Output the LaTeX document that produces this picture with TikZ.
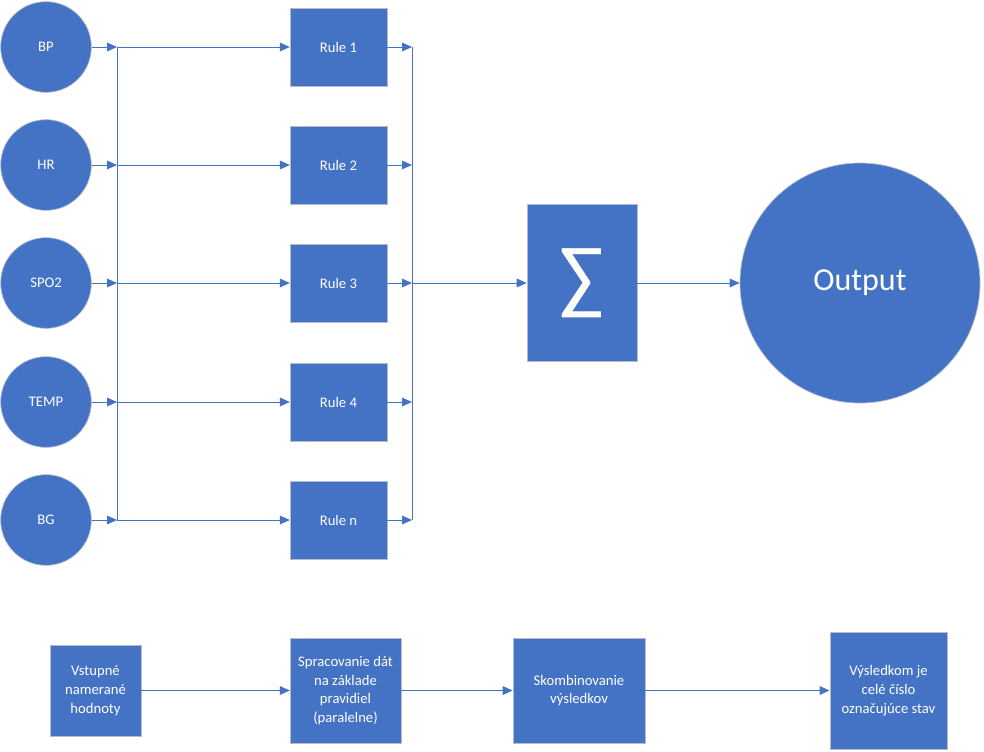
\documentclass[tikz,border=0pt]{standalone}
\usepackage{fontspec}
\setmainfont{Carlito}
\usetikzlibrary{arrows.meta}
\definecolor{officeblue}{HTML}{4472C4}
\definecolor{officeedge}{HTML}{B4BCCB}
\begin{document}
\begin{tikzpicture}[x=0.75pt, y=-0.75pt, >={Triangle[length=7.5pt, width=6.5pt]},
    sensor/.style={circle, fill=officeblue, draw=officeedge, line width=0.5pt, minimum size=68pt, inner sep=0pt, text=white, font=\fontsize{11}{13}\selectfont},
    rulebox/.style={rectangle, fill=officeblue, draw=officeedge, line width=0.5pt, minimum width=72.5pt, minimum height=58.5pt, text=white, font=\fontsize{11}{13}\selectfont},
    stagebox/.style={rectangle, fill=officeblue, draw=officeedge, line width=0.5pt, text=white, align=center, inner sep=2pt, font=\fontsize{11}{14}\selectfont},
    link/.style={officeblue, line width=0.75pt}]
    \useasboundingbox (0,0) rectangle (984,751);
    % Inputs, rules and the two buses
    \foreach \y/\s/\r [count=\i] in {47/BP/Rule 1, 165/HR/Rule 2, 283/SPO2/Rule 3, 402/TEMP/Rule 4, 520/BG/Rule n} {
            \node[sensor] (s\i) at (46,\y) {\s};
            \node[rulebox] (r\i) at (338.5,\y) {\r};
            \coordinate (b\i) at (117,\y);
            \coordinate (c\i) at (412,\y);
            \draw[link, ->] (s\i.east) -- (b\i);
            \draw[link, ->] (b\i) -- (r\i.west);
            \draw[link, ->] (r\i.east) -- (c\i);
        }
    \draw[link] (b1) -- (b5);
    \draw[link] (c1) -- (c5);
    % Sum and output
    \node[rectangle, fill=officeblue, draw=officeedge, line width=0.5pt, minimum width=82.5pt, minimum height=118pt, text=white, font=\fontsize{62}{62}\selectfont] (sum) at (582,283) {\raisebox{-6pt}{∑}};
    \node[circle, fill=officeblue, draw=officeedge, line width=0.5pt, minimum size=180pt, text=white, font=\fontsize{24}{28}\selectfont] (out) at (860,283) {\raisebox{-2pt}{Output}};
    \draw[link, ->] (c3) -- (sum.west);
    \draw[link, ->] (sum.east) -- (out.west);
    % Legend row
    \node[stagebox, minimum width=68pt, minimum height=68pt] (stage1) at (95.5,690.5) {Vstupné\\nameran\'e\\hodnoty};
    \node[stagebox, minimum width=83pt, minimum height=79pt] (stage2) at (345.5,690.5) {Spracovanie dát\\na základe\\pravidiel\\(paralelne)};
    \node[stagebox, minimum width=99pt, minimum height=79pt] (stage3) at (579,690.5) {Skombinovanie\\výsledkov};
    \node[stagebox, minimum width=88pt, minimum height=88pt] (stage4) at (888.5,690.5) {Výsledkom je\\celé číslo\\označujúce stav};
    \draw[link, ->] (stage1) -- (stage2);
    \draw[link, ->] (stage2) -- (stage3);
    \draw[link, ->] (stage3) -- (stage4);
\end{tikzpicture}
\end{document}
